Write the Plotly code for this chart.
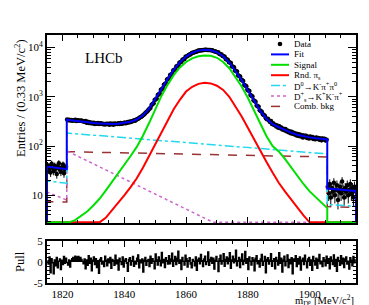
import numpy as np
import plotly.graph_objects as go

# ---------------- values ----------------
X_RANGE = [1815.0, 1915.0]
N_BINS = 300                      # 0.33 MeV bins

# data, left side band (1815 - 1821.4)
DATA_LEFT = [41, 33, 38, 29, 44, 36, 31, 40, 35, 27, 39, 45, 33, 30, 37, 42, 28, 34, 38]
# data, fit window (1821.5 - 1905.5)
DATA_MAIN = [
    345,
    336, 344, 331, 338, 327, 335,      # 1822-1823
    332, 341, 322, 334, 329, 327,      # 1824-1825
    325, 330, 318, 318, 312, 321,      # 1826-1827
    299, 310, 294, 305, 289, 298,      # 1828-1829
    288, 297, 281, 292, 283, 295,      # 1830-1831
    279, 290, 283, 287, 276, 282,      # 1832-1833
    274, 285, 279, 283, 271, 286,      # 1834-1835
    277, 284, 272, 288, 279, 283,      # 1836-1837
    281, 290, 279, 293, 285, 290,      # 1838-1839
    289, 301, 292, 298, 307, 301,      # 1840-1841
    316, 308, 320, 322, 333, 327,      # 1842-1843
    341, 352, 358, 371, 384, 393,      # 1844-1845
    409, 425, 442, 471, 490, 512,      # 1846-1847
    548, 569, 601, 679, 712, 742,      # 1848-1849
    861, 894, 925, 1092, 1131, 1170,   # 1850-1851
    1392, 1431, 1489, 1765, 1822, 1880,
    2241, 2305, 2380, 2762, 2851, 2930,
    3431, 3520, 3618, 4110, 4202, 4318,
    4921, 5030, 5140, 5652, 5771, 5880,
    6490, 6602, 6720, 7090, 7205, 7320,
    7740, 7851, 7960, 8160, 8255, 8350,
    8590, 8671, 8750, 8790, 8842, 8900,
    8970, 9020, 8990, 8950, 8921, 8890,
    8870, 8840, 8790, 8520, 8430, 8330,
    8150, 8045, 7910, 7420, 7310, 7190,
    6760, 6640, 6520, 5850, 5740, 5630,
    5070, 4960, 4850, 4180, 4080, 3980,
    3440, 3360, 3270, 2740, 2660, 2580,
    2240, 2170, 2100, 1740, 1690, 1640,
    1395, 1350, 1305, 1090, 1052, 1018,
    850, 820, 795, 668, 645, 625,
    534, 516, 500, 440, 425, 412,
    365, 349, 358, 331, 308, 322,
    279, 291, 268, 272, 251, 263,
    236, 252, 229, 238, 217, 226,
    209, 221, 200, 207, 190, 199,
    181, 195, 178, 186, 171, 180,
    164, 176, 160, 171, 157, 165,
    150, 163, 154, 162, 146, 155,
    143, 156, 148, 153, 139, 147,
    137, 149, 141, 146, 134, 142,
    131, 143, 137, 141, 130, 135,
]
# data, right side band (1905.8 - 1915)
DATA_RIGHT = [15, 11, 17, 9, 14, 12, 18, 10, 13, 16, 8, 12, 15, 11,
              19, 13, 9, 14, 12, 16, 10, 13, 17, 11, 14, 9, 15, 12]

PULLS = [
    0.3, -0.5, 1.2, -2.6, 0.8, -0.2, -2.8, 0.5, -0.9, 1.1, -1.4, 0.2, 0.7, -1.8, 0.4, -0.6, 1.3, -0.3, 0.9, -0.1,
    -0.7, 0.5, -1.2, 0.3, 0.8, 1.1, 0.9, 1.4, 1.2, 1.0, 1.3, 0.8, 1.1, 0.6, 0.2, -0.4, 0.7, -1.6, 0.5, -0.8,
    1.5, -0.3, 0.9, -2.1, 0.4, 1.2, -0.6, 0.8, -1.3, 0.3, -2.7, 0.6, 1.0, -0.5, 0.2, -1.1, 1.4, 0.4, -0.9, 0.7,
    -0.2, 1.1, -1.5, 0.6, 0.3, -0.8, 1.6, -0.4, 0.5, -1.9, 0.9, 0.1, -0.6, 1.2, -1.2, 0.4, 0.8, -0.3, -2.2, 0.6,
    1.0, -0.7, 0.3, 1.3, -1.0, 0.2, -0.5, 0.9, 1.7, -1.4, 0.5, -0.2, 0.7, -2.4, 0.4, 1.1, -0.8, 0.3, 0.6, -1.1,
    1.4, -0.3, 0.8, 0.2, -1.6, 1.9, 0.5, -0.7, 1.2, 0.4, -0.9, 2.3, -0.2, 0.6, -1.3, 1.0, 0.3, -0.5, 1.5, -0.4,
    0.7, 2.1, -1.0, 0.4, 1.3, -0.6, 0.9, 2.6, -0.3, 0.5, -1.8, 1.1, 0.2, -0.7, 1.6, 0.8, -1.2, 0.3, 1.0, -0.5,
    -1.4, 0.6, 0.2, -0.9, 1.2, -2.0, 0.5, 0.9, -0.4, 1.8, 0.3, -1.1, 0.7, 1.4, -0.6, 0.1, 2.4, -0.8, 0.6, 1.1,
    -0.3, 0.9, -1.7, 0.4, 1.3, 0.2, -2.3, 0.8, 1.6, -0.5, 0.3, 2.0, -1.0, 0.6, 1.2, -0.4, 0.9, 2.2, -1.5, 0.5,
    1.4, -0.2, 0.7, 2.8, -0.9, 0.3, 1.1, -1.3, 0.6, 1.9, -0.6, 0.4, 2.5, -0.3, 0.8, -1.8, 1.2, 0.2, -0.7, 1.0,
    0.5, -2.1, 0.9, 1.5, -0.4, 0.3, -1.2, 0.7, 1.8, -0.8, 0.2, 1.3, -2.6, 0.6, 1.0, -0.5, 0.4, 2.0, -1.0, 0.3,
    0.8, -1.6, 1.1, 0.4, -0.7, 2.2, -0.3, 0.9, -2.4, 0.5, 1.4, -0.9, 0.2, 1.7, -1.3, 0.6, -0.4, 1.0, -2.8, 0.7,
    0.3, 1.5, -1.1, 0.8, -0.5, 1.2, -1.9, 0.4, 0.9, -0.6, 1.6, 0.2, -1.4, 0.7, 1.1, -0.8, 0.5, -2.0, 1.3, 0.3,
    -0.7, 0.9, -1.5, 0.6, 1.8, -0.4, 0.2, -1.1, 1.0, 0.5, -0.9, 1.4, -0.3, 0.8, -1.6, 1.2, 0.4, -0.6, 1.7, -1.0,
    0.6, -2.2, 1.1, 0.3, -0.8, 1.5, -0.4, 0.9, -1.3, 0.7, 1.2, -0.5, 0.2, -1.7, 1.0, 0.4, -0.9, 1.3, -0.2, 0.6,
]

# model curves: knots in the three ranges
X_LEFT = [1815.0, 1821.4]
X_MAIN = [1821.4] + list(range(1822, 1905, 2)) + [1905.7]
X_RIGHT = [1905.7, 1915.0]

FIT_LEFT = [38.5, 34.0]
FIT_MAIN = [344, 339, 325, 312, 301, 293, 286, 281, 280, 284, 294, 312, 346, 420, 570, 881,
            1423, 2284, 3509, 5015, 6571, 7838, 8664, 9010, 8847, 8054, 6651, 4968, 3365,
            2181, 1353, 821, 518, 359, 277, 241, 211, 187, 170, 158, 150, 144, 139, 136]
FIT_RIGHT = [13.7, 12.2]

SIG_LEFT = [0.0, 0.0]
SIG_MAIN = [2.4, 2.6, 3.1, 3.8, 4.7, 6.2, 8.5, 12.5, 18.5, 28, 42, 62, 95, 160, 290, 560,
            1030, 1750, 2750, 3950, 5100, 6050, 6650, 6900, 6800, 6200, 5100, 3800, 2550,
            1620, 960, 530, 285, 160, 100, 78, 55, 37, 25, 17, 12, 9, 6.8, 5.5]
SIG_RIGHT = [0.0, 0.0]

RND_LEFT = [0.0, 0.0]
RND_MAIN = [0.5, 0.6, 0.8, 1.1, 1.5, 2.0, 2.6, 3.5, 4.9, 7.0, 10, 14.5, 22, 36, 62, 108,
            185, 330, 560, 870, 1280, 1600, 1830, 1930, 1870, 1680, 1380, 1000, 650,
            400, 235, 135, 80, 48, 29, 18, 12, 8.2, 5.6, 3.9, 2.8, 2.0, 1.4, 1.1]
RND_RIGHT = [0.0, 0.0]

KPIPI0_LEFT = [19.6, 17.6]
KPIPI0_X = [1821.4, 1905.7]
KPIPI0_MAIN = [184, 69.3]
KPIPI0_RIGHT = [6.5, 6.0]

DS_LEFT = [11.7, 8.0]
DS_X = [1821.4, 1868.8, 1905.7]
DS_MAIN = [80, 2.6, 0.0]
DS_RIGHT = [0.0, 0.0]

COMB_LEFT = [7.4, 7.3]
COMB_X = [1821.4, 1905.7]
COMB_MAIN = [77, 60]
COMB_RIGHT = [5.9, 5.7]

LEGEND = [
    ("Data", "black", None, "dot"),
    ("Fit", "#0000ff", "solid", None),
    ("Signal", "#00e000", "solid", None),
    ("Rnd. π<sub>s</sub>", "#ff0000", "solid", None),
    ("D<sup>0</sup>→K<sup>-</sup>π<sup>+</sup>π<sup>0</sup>", "#22d8ee", "dashdot", None),
    ("D<sup>+</sup><sub>s</sub>→K<sup>+</sup>K<sup>-</sup>π<sup>+</sup>", "#cc66cc", "dot", None),
    ("Comb. bkg", "#993333", "dash", None),
]

# ---------------- figure ----------------
Y_LOG = [0.438, 4.255]
FLOOR = 10 ** Y_LOG[0] * 1.03
FONT = "Liberation Serif"

centers = X_RANGE[0] + (np.arange(N_BINS) + 0.5) * (X_RANGE[1] - X_RANGE[0]) / N_BINS
data = np.array(DATA_LEFT + DATA_MAIN + DATA_RIGHT, dtype=float)
n = min(len(data), len(centers))

fig = go.Figure()

fig.add_trace(go.Scatter(
    x=centers[:n], y=data[:n], mode="markers", xaxis="x", yaxis="y",
    marker=dict(color="black", size=4.5),
    error_y=dict(type="data", array=np.sqrt(data[:n]), color="black", thickness=1, width=0),
    showlegend=False, hoverinfo="skip"))


def curve(xl, yl, xm, ym, xr, yr):
    x = [xl[0]] + list(xl) + list(xm) + list(xr) + [xr[-1]]
    y = [0.0] + list(yl) + list(ym) + list(yr) + [0.0]
    return x, np.maximum(np.array(y, dtype=float), FLOOR)


components = [
    (COMB_LEFT, COMB_X, COMB_MAIN, COMB_RIGHT, "#993333", "dash", 1.5),
    (DS_LEFT, DS_X, DS_MAIN, DS_RIGHT, "#cc66cc", "dot", 1.5),
    (KPIPI0_LEFT, KPIPI0_X, KPIPI0_MAIN, KPIPI0_RIGHT, "#22d8ee", "dashdot", 1.5),
    (RND_LEFT, X_MAIN, RND_MAIN, RND_RIGHT, "#ff0000", "solid", 2),
    (SIG_LEFT, X_MAIN, SIG_MAIN, SIG_RIGHT, "#00e000", "solid", 2),
    (FIT_LEFT, X_MAIN, FIT_MAIN, FIT_RIGHT, "#0000ff", "solid", 2),
]
for yl, xm, ym, yr, col, dash, w in components:
    cx, cy = curve(X_LEFT, yl, xm, ym, X_RIGHT, yr)
    fig.add_trace(go.Scatter(x=cx, y=cy, mode="lines", xaxis="x", yaxis="y",
                             line=dict(color=col, dash=dash, width=w),
                             showlegend=False, hoverinfo="skip"))

# pull histogram as a filled step line
fig.add_trace(go.Scatter(x=centers[:len(PULLS)], y=PULLS, mode="lines",
                         line=dict(color="black", width=1.4, shape="hvh"),
                         fill="tozeroy", fillcolor="black",
                         xaxis="x2", yaxis="y2", showlegend=False, hoverinfo="skip"))

axis_common = dict(showline=True, linecolor="black", linewidth=2, mirror="allticks",
                   ticks="inside", tickcolor="black", showgrid=False, zeroline=False,
                   tickfont=dict(family=FONT, size=11, color="black"))

minor_log = [m * 10 ** e for e in range(0, 5) for m in range(2, 10)]

H_TOP, H_BOT = 27, 30
area = 305 - H_TOP - H_BOT
main_lo = (275 - 215) / area
pull_hi = (275 - 233) / area

fig.update_layout(
    width=369, height=305,
    margin=dict(l=39, r=21, t=H_TOP, b=H_BOT),
    paper_bgcolor="white", plot_bgcolor="white",
    showlegend=False,
    xaxis=dict(domain=[0, 1], anchor="y", range=X_RANGE, showticklabels=False,
               tick0=1820, dtick=20, ticklen=6, tickwidth=1,
               minor=dict(ticks="inside", tick0=1815, dtick=5, ticklen=3, tickcolor="black"),
               **axis_common),
    yaxis=dict(domain=[main_lo, 1], anchor="x", type="log", range=Y_LOG,
               tickvals=[10, 100, 1000, 10000],
               ticktext=["10", "10<sup>2</sup>", "10<sup>3</sup>", "10<sup>4</sup>"],
               ticklen=8, tickwidth=1,
               minor=dict(ticks="inside", tickvals=minor_log, ticklen=4, tickcolor="black"),
               **axis_common),
    xaxis2=dict(domain=[0, 1], anchor="y2", range=X_RANGE,
                tickvals=[1820, 1840, 1860, 1880, 1900], ticklen=6, tickwidth=1,
                minor=dict(ticks="inside", tick0=1815, dtick=5, ticklen=3, tickcolor="black"),
                **axis_common),
    yaxis2=dict(domain=[0, pull_hi], anchor="x2", range=[-5, 5],
                tickvals=[-5, 0, 5], ticktext=["-5", "0", "5"], ticklen=6, tickwidth=1,
                minor=dict(ticks="inside", tick0=-5, dtick=1, ticklen=3, tickcolor="black"),
                **axis_common),
)


def px_x(p):
    return (p - 39) / (369 - 39 - 21)


def px_y(p):
    return (305 - H_BOT - p) / area


ann = [
    dict(text="LHCb", x=px_x(96), y=px_y(50), font=dict(size=15)),
    dict(text="Entries / (0.33 MeV/c<sup>2</sup>)", x=px_x(12), y=px_y(90), textangle=-90,
         font=dict(size=12.5)),
    dict(text="Pull", x=px_x(12), y=px_y(254), textangle=-90, font=dict(size=12.5)),
    dict(text="m<sub>D⁰</sub> [MeV/c<sup>2</sup>]", x=1.0, y=px_y(293), xanchor="right",
         font=dict(size=10.5)),
]
shapes = []
row_y0, row_dy = 36, 10.4
for i, (label, col, dash, kind) in enumerate(LEGEND):
    yp = px_y(row_y0 + i * row_dy)
    if kind == "dot":
        shapes.append(dict(type="circle", xref="paper", yref="paper", xsizemode="pixel",
                           ysizemode="pixel", xanchor=px_x(272), yanchor=yp,
                           x0=-2.3, x1=2.3, y0=-2.3, y1=2.3, fillcolor="black",
                           line=dict(width=0)))
    else:
        shapes.append(dict(type="line", xref="paper", yref="paper", x0=px_x(263), x1=px_x(281),
                           y0=yp, y1=yp, line=dict(color=col, dash=dash,
                                                   width=2 if dash == "solid" else 1.5)))
    ann.append(dict(text=label, x=px_x(284), y=yp, xanchor="left", font=dict(size=9)))

for a in ann:
    a.setdefault("xanchor", "center")
    a.update(xref="paper", yref="paper", showarrow=False, yanchor="middle")
    a["font"] = dict(family=FONT, color="black", **a["font"])
fig.update_layout(annotations=ann, shapes=shapes)

fig.write_html("out.html")
